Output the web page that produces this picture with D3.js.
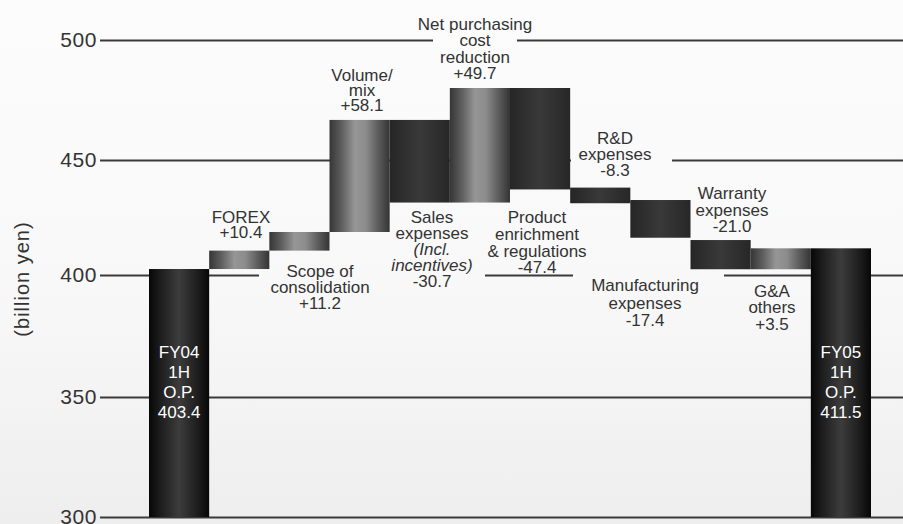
<!DOCTYPE html>
<html lang="en">
<head>
<meta charset="UTF-8">
<title>FY05 1H operating profit bridge</title>
<style>
    body { margin: 0; background: #f8f8f8; }
    svg { display: block; }
    text { font-family: Arial, "Liberation Sans", sans-serif; }
    .tick text { font-size: 21px; fill: #333; letter-spacing: 0.6px; }
    .tick line { stroke: #3a3a3a; stroke-width: 2.2px; }
    .lbl { font-size: 17px; fill: #333; }
    .lbl-in { font-size: 17px; fill: #fff; }
</style>
</head>
<body>
<svg id="chart" width="903" height="524"></svg>
<script src="https://d3js.org/d3.v7.min.js"></script>
<script>
// steps of the bridge, left to right
const steps = ["FY04 1H O.P.", "FOREX", "Scope of consolidation", "Volume/mix", "Sales expenses",
    "Net purchasing cost reduction", "Product enrichment & regulations", "R&D expenses",
    "Manufacturing expenses", "Warranty expenses", "G&A others", "FY05 1H O.P."];
const kinds = ["total", "up", "up", "up", "down", "up", "down", "down", "down", "down", "up", "total"];
// labelled amounts (billion yen)
const amounts = [403.4, 10.4, 11.2, 58.1, -30.7, 49.7, -47.4, -8.3, -17.4, -21.0, 3.5, 411.5];
// bar extents as drawn in the picture (axis units)
const barLow  = [300, 402.6, 410.6, 418.7, 431.5, 431.5, 437.2, 431.2, 416.2, 402.5, 402.5, 300];
const barHigh = [402.6, 410.6, 418.7, 466.7, 466.7, 480.0, 480.0, 438.0, 432.6, 415.2, 411.6, 411.6];
// label text (the amount line is added from amounts)
const labelText = [
    ["FY04", "1H", "O.P."],
    ["FOREX"],
    ["Scope of", "consolidation"],
    ["Volume/", "mix"],
    ["Sales", "expenses", "(Incl.", "incentives)"],
    ["Net purchasing", "cost", "reduction"],
    ["Product", "enrichment", "& regulations"],
    ["R&D", "expenses"],
    ["Manufacturing", "expenses"],
    ["Warranty", "expenses"],
    ["G&A", "others"],
    ["FY05", "1H", "O.P."]
];
const italicLines = ["(Incl.", "incentives)"];
const yTicks = [300, 350, 400, 450, 500];

// where each label sits: centre x, first baseline, line height, optional backing box
const labelLayout = [
    { cx: null, y: 358, lh: 20, inside: true },
    { cx: 241, y: 222.7, lh: 15 },
    { cx: 320, y: 277.3, lh: 16, box: [259, 381, 262, 314] },
    { cx: 362, y: 81, lh: 15 },
    { cx: 432, y: 223.3, lh: 15.9, box: [379, 485, 207, 292] },
    { cx: 475, y: 30, lh: 16.3, box: [433, 517, 14, 84] },
    { cx: 537, y: 223.3, lh: 16.6, box: [486, 588, 206, 272] },
    { cx: 615, y: 144, lh: 16, box: [571, 672, 128, 182] },
    { cx: 645, y: 291, lh: 17.5, box: [573, 724, 272, 332] },
    { cx: 732, y: 199.3, lh: 16.2 },
    { cx: 772, y: 296.7, lh: 16.7 },
    { cx: null, y: 358, lh: 20, inside: true }
];

const W = 903, H = 524;
const svg = d3.select("#chart");

const x = d3.scaleBand().domain(d3.range(steps.length)).range([149, 871]).padding(0);
// tick spacing in the original is not quite even
const y = d3.scaleLinear().domain(yTicks).range([517, 397, 275, 160, 40]);

const defs = svg.append("defs");

const bg = defs.append("linearGradient").attr("id", "bg")
    .attr("gradientUnits", "userSpaceOnUse")
    .attr("x1", 0).attr("y1", 0).attr("x2", 0).attr("y2", H);
bg.append("stop").attr("offset", "0%").attr("stop-color", "#fcfcfc");
bg.append("stop").attr("offset", "55%").attr("stop-color", "#f8f8f8");
bg.append("stop").attr("offset", "100%").attr("stop-color", "#eeeeee");

function hGrad(id, stops) {
    const g = defs.append("linearGradient").attr("id", id)
        .attr("x1", 0).attr("y1", 0).attr("x2", 1).attr("y2", 0);
    stops.forEach(s => g.append("stop").attr("offset", s[0]).attr("stop-color", s[1]));
}
hGrad("gTotal", [["0%", "#070707"], ["18%", "#1c1c1c"], ["50%", "#3c3c3c"], ["82%", "#1c1c1c"], ["100%", "#070707"]]);
hGrad("gUp", [["0%", "#363636"], ["20%", "#5e5e5e"], ["42%", "#969696"], ["60%", "#8c8c8c"], ["82%", "#5a5a5a"], ["100%", "#343434"]]);
hGrad("gDown", [["0%", "#262626"], ["50%", "#393939"], ["100%", "#272727"]]);

svg.append("rect").attr("width", W).attr("height", H).attr("fill", "url(#bg)");

// axis with full-width gridlines
const axis = svg.append("g")
    .attr("transform", "translate(100,0)")
    .call(d3.axisLeft(y).tickValues(yTicks).tickSize(-(W - 100)).tickPadding(3));
axis.select(".domain").remove();

// y title
svg.append("text")
    .attr("transform", "translate(29,279) rotate(-90)")
    .attr("text-anchor", "middle")
    .style("font-size", "20px")
    .style("letter-spacing", "1px")
    .attr("fill", "#333")
    .text("(billion yen)");

// label backing boxes hide the gridlines behind the text
svg.append("g").selectAll("rect")
    .data(labelLayout.filter(d => d.box))
    .join("rect")
    .attr("x", d => d.box[0])
    .attr("y", d => d.box[2])
    .attr("width", d => d.box[1] - d.box[0])
    .attr("height", d => d.box[3] - d.box[2])
    .attr("fill", "url(#bg)");

// bars
const fills = { total: "url(#gTotal)", up: "url(#gUp)", down: "url(#gDown)" };
svg.append("g").selectAll("rect")
    .data(steps.map((s, i) => i))
    .join("rect")
    .attr("x", i => x(i))
    .attr("width", x.bandwidth())
    .attr("y", i => y(barHigh[i]))
    .attr("height", i => y(barLow[i]) - y(barHigh[i]))
    .attr("fill", i => fills[kinds[i]]);

// labels
function fmt(v, kind) {
    if (kind === "total") return v.toFixed(1);
    return (v > 0 ? "+" : "-") + Math.abs(v).toFixed(1);
}
labelText.forEach((lines, i) => {
    const lay = labelLayout[i];
    const all = lines.concat([fmt(amounts[i], kinds[i])]);
    const cx = lay.cx == null ? x(i) + x.bandwidth() / 2 : lay.cx;
    const t = svg.append("text")
        .attr("class", lay.inside ? "lbl-in" : "lbl")
        .attr("text-anchor", "middle");
    all.forEach((ln, k) => {
        t.append("tspan")
            .attr("x", cx)
            .attr("y", lay.y + k * lay.lh)
            .style("font-style", italicLines.includes(ln) ? "italic" : null)
            .text(ln);
    });
});
</script>
</body>
</html>
